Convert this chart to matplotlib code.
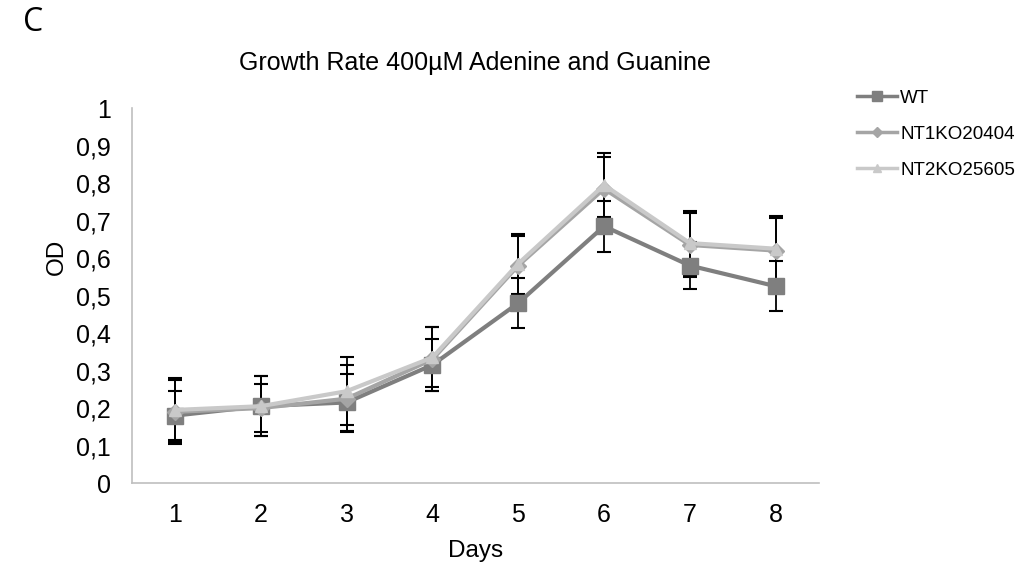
import matplotlib
matplotlib.use("Agg")
import matplotlib.pyplot as plt

days = [1, 2, 3, 4, 5, 6, 7, 8]
series_names = ["WT", "NT1KO20404", "NT2KO25605"]
wt = [0.18, 0.205, 0.215, 0.315, 0.48, 0.685, 0.58, 0.525]
wt_err = [0.065, 0.08, 0.075, 0.07, 0.067, 0.068, 0.063, 0.066]
nt1 = [0.19, 0.20, 0.225, 0.33, 0.58, 0.785, 0.635, 0.62]
nt1_err = [0.085, 0.065, 0.09, 0.085, 0.08, 0.085, 0.085, 0.088]
nt2 = [0.195, 0.205, 0.245, 0.335, 0.585, 0.795, 0.64, 0.625]
nt2_err = [0.085, 0.08, 0.09, 0.08, 0.08, 0.085, 0.085, 0.088]
yticks = [0, 0.1, 0.2, 0.3, 0.4, 0.5, 0.6, 0.7, 0.8, 0.9, 1]
ytick_labels = ["0", "0,1", "0,2", "0,3", "0,4", "0,5", "0,6", "0,7", "0,8", "0,9", "1"]

plt.rcParams['font.family'] = ['Liberation Sans', 'DejaVu Sans']

fig = plt.figure(figsize=(10.31, 5.69), dpi=100)
ax = fig.add_axes([0.128, 0.151, 0.666, 0.659])

styles = [
    dict(color="#7f7f7f", marker="s", ms=11, lw=3),
    dict(color="#a5a5a5", marker="D", ms=8, lw=3),
    dict(color="#c9c9c9", marker="^", ms=9, lw=3),
]
data = [(wt, wt_err), (nt1, nt1_err), (nt2, nt2_err)]
for (vals, errs), st, name in zip(data, styles, series_names):
    ax.errorbar(days, vals, yerr=errs, fmt="none", ecolor="black", elinewidth=1.3,
                capsize=5, capthick=1.5, zorder=2)
for (vals, errs), st, name in zip(data, styles, series_names):
    ax.plot(days, vals, color=st["color"], lw=st["lw"], marker=st["marker"],
            ms=st["ms"], mfc=st["color"], mec=st["color"], label=name, zorder=3)

ax.set_xlim(0.5, 8.5)
ax.set_ylim(0, 1)
ax.set_xticks(days)
ax.set_xticklabels([str(d) for d in days], fontsize=18)
ax.set_yticks(yticks)
ax.set_yticklabels(ytick_labels, fontsize=18)
ax.tick_params(axis="y", length=0, pad=15)
ax.tick_params(axis="x", length=0, pad=14)
for s in ["top", "right"]:
    ax.spines[s].set_visible(False)
for s in ["left", "bottom"]:
    ax.spines[s].set_color("#bfbfbf")
    ax.spines[s].set_linewidth(1.2)

ax.set_xlabel("Days", fontsize=17.5, labelpad=10)
ax.set_ylabel("OD", fontsize=17.5)
ax.yaxis.set_label_coords(-0.094, 0.603)
fig.text(0.461, 0.889, "Growth Rate 400µM Adenine and Guanine", fontsize=18,
         ha="center", va="center")
fig.text(0.022, 0.96, "C", fontsize=23, ha="left", va="center",
         family=["Open Sans", "DejaVu Sans"])

leg_handles = []
for st, name in zip(styles, series_names):
    h, = ax.plot([], [], color=st["color"], lw=2.5, marker=st["marker"],
                 ms=st["ms"] * 0.65, label=name)
    leg_handles.append(h)
fig.legend(handles=leg_handles, labels=series_names, loc="upper left",
           bbox_to_anchor=(0.815, 0.872), frameon=False, fontsize=13.5,
           handlelength=2.1, handletextpad=0.2, labelspacing=1.0)

fig.savefig("out.png", dpi=100, facecolor="white")
